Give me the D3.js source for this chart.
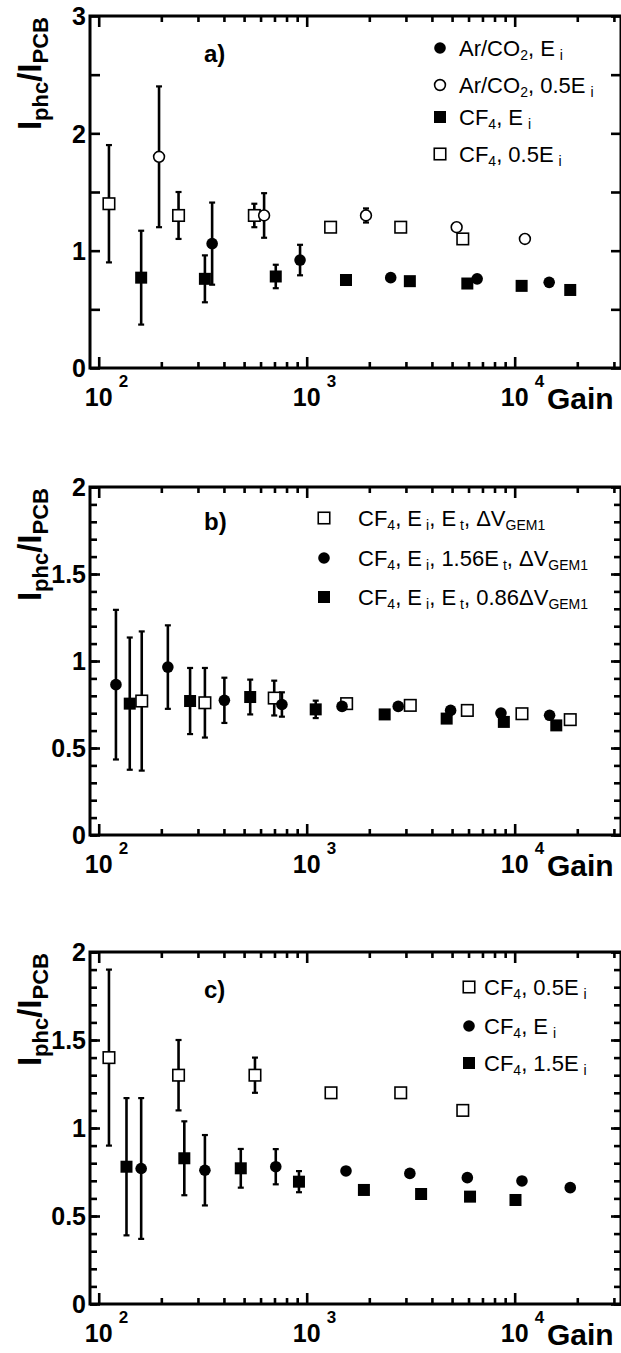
<!DOCTYPE html>
<html>
<head>
<meta charset="utf-8">
<script src="https://cdn.jsdelivr.net/npm/d3@7"></script>
<style>
body { margin: 0; background: #fff; }
svg { display: block; font-family: "Liberation Sans", Arial, sans-serif; }
</style>
</head>
<body>
<svg id="chart" width="621" height="1353"></svg>
<script>
// Three stacked panels of I_phc/I_PCB against Gain (log axis)
//	Every series is a list of [gain, ratio, error] -- error 0 means no bar

// ---- a) ----
var arCO2Ei     = [[351,1.06,0.35],[929,0.92,0.13],[2535,0.77,0],[6600,0.76,0],[14650,0.73,0]];
var arCO2HalfEi = [[195,1.80,0.60],[624,1.30,0.19],[1928,1.30,0.06],[5260,1.20,0],[11200,1.10,0]];
var cf4EiA      = [[160,0.77,0.40],[324,0.76,0.20],[710,0.78,0.10],[1545,0.75,0],[3133,0.74,0],[5920,0.72,0],[10800,0.70,0],[18500,0.665,0]];
var cf4HalfEiA  = [[112,1.40,0.50],[242,1.30,0.20],[560,1.30,0.10],[1303,1.20,0],[2832,1.20,0],[5630,1.10,0]];

// ---- b) ----
var cf4Nominal  = [[161,0.77,0.40],[324,0.76,0.20],[698,0.787,0.10],[1556,0.755,0],[3148,0.745,0],[5920,0.716,0],[10840,0.697,0],[18500,0.663,0]];
var cf4Et156    = [[121,0.864,0.43],[215,0.965,0.24],[402,0.774,0.13],[760,0.75,0.07],[1479,0.739,0],[2755,0.739,0],[4920,0.716,0],[8590,0.701,0],[14720,0.688,0]];
var cf4Gem086   = [[141,0.755,0.38],[275,0.77,0.19],[535,0.793,0.10],[1105,0.722,0.05],[2371,0.693,0],[4710,0.669,0],[8870,0.65,0],[15850,0.63,0]];

// ---- c) ----
var cf4HalfEiC  = [[112,1.40,0.50],[242,1.30,0.20],[564,1.30,0.10],[1309,1.20,0],[2832,1.20,0],[5630,1.10,0]];
var cf4EiC      = [[160,0.77,0.40],[324,0.76,0.20],[710,0.78,0.10],[1545,0.756,0],[3133,0.742,0],[5920,0.718,0],[10840,0.699,0],[18500,0.661,0]];
var cf4Ei15     = [[136,0.78,0.39],[258,0.828,0.21],[482,0.771,0.11],[918,0.695,0.06],[1884,0.648,0],[3549,0.625,0],[6100,0.61,0],[10090,0.591,0]];

	// Tick values
var xMajor = [100, 1000, 10000];
var xExpLabels = ["2", "3", "4"];
var yTicksA = [0, 0.5, 1, 1.5, 2, 2.5, 3];
var yLabelsA = [0, 1, 2, 3];
var yTicksBC = [0, 0.5, 1, 1.5, 2];
var yMinorBC = d3.range(0, 2.001, 0.1);

	// Legend texts: [text, 'sub'|null, dx]
var legendA = [
	[["Ar/CO"],["2","sub"],[", E"],["i","sub",5]],
	[["Ar/CO"],["2","sub"],[", 0.5E"],["i","sub",5]],
	[["CF"],["4","sub"],[", E"],["i","sub",5]],
	[["CF"],["4","sub"],[", 0.5E"],["i","sub",5]]
];
var legendB = [
	[["CF"],["4","sub"],[", E"],["i","sub",4],[", E"],["t","sub",4],[", \u0394V"],["GEM1","sub"]],
	[["CF"],["4","sub"],[", E"],["i","sub",4],[", 1.56E"],["t","sub",4],[", \u0394V"],["GEM1","sub"]],
	[["CF"],["4","sub"],[", E"],["i","sub",4],[", E"],["t","sub",4],[", 0.86\u0394V"],["GEM1","sub"]]
];
var legendC = [
	[["CF"],["4","sub"],[", 0.5E"],["i","sub",5]],
	[["CF"],["4","sub"],[", E"],["i","sub",5]],
	[["CF"],["4","sub"],[", 1.5E"],["i","sub",5]]
];

var svg = d3.select("#chart");
var L = 90, R = 621;
var x = d3.scaleLog().domain([90.8, 32450]).range([L, R]);

var xMinor = [];
[10, 100, 1000, 10000].forEach(function(dec) {
	for (var k=2; k<10; k++) {
		var v = k*dec;
		if (v > 90.8 && v < 32450) xMinor.push(v);
	}
});

var panels = [
	{ top: 16, bottom: 368, yMax: 3, ticks: yTicksA, minor: null, labels: yLabelsA, tag: "a)", tagY: 62,
	  leg: { mx: 440, tx: 459, rows: [48, 85, 117, 154] },
	  series: [
		{ data: cf4HalfEiA, shape: "os", text: legendA[3], row: 3 },
		{ data: arCO2HalfEi, shape: "oc", text: legendA[1], row: 1 },
		{ data: cf4EiA, shape: "fs", text: legendA[2], row: 2 },
		{ data: arCO2Ei, shape: "fc", text: legendA[0], row: 0 }
	  ] },
	{ top: 487, bottom: 835, yMax: 2, ticks: yTicksBC, minor: yMinorBC, labels: yTicksBC, tag: "b)", tagY: 530,
	  leg: { mx: 324, tx: 358, rows: [518, 558, 597] },
	  series: [
		{ data: cf4Nominal, shape: "os", text: legendB[0], row: 0 },
		{ data: cf4Et156, shape: "fc", text: legendB[1], row: 1 },
		{ data: cf4Gem086, shape: "fs", text: legendB[2], row: 2 }
	  ] },
	{ top: 952, bottom: 1304, yMax: 2, ticks: yTicksBC, minor: yMinorBC, labels: yTicksBC, tag: "c)", tagY: 998,
	  leg: { mx: 469, tx: 484, rows: [987, 1026, 1063] },
	  series: [
		{ data: cf4HalfEiC, shape: "os", text: legendC[0], row: 0 },
		{ data: cf4EiC, shape: "fc", text: legendC[1], row: 1 },
		{ data: cf4Ei15, shape: "fs", text: legendC[2], row: 2 }
	  ] }
];

	// PURPOSE: Write a text built from segments with sub-scripts
function richText(sel, parts, size, subSize, drop, weight)
{
	var t = sel.append("text").attr("font-size", size).attr("font-weight", weight || "normal");
	var cur = 0;
	parts.forEach(function(p) {
		var want = p[1] === "sub" ? drop : 0;
		var span = t.append("tspan").text(p[0]).attr("dy", want - cur);
		if (p[2]) span.attr("dx", p[2]);
		if (p[1] === "sub") span.attr("font-size", subSize);
		cur = want;
	});
	return t;
} // richText()

	// PURPOSE: Draw one marker of given shape at cx, cy
function marker(sel, shape, cx, cy)
{
	var open = shape.charAt(0) === "o";
	var m;
	if (shape.charAt(1) === "c") {
		m = sel.append("circle").attr("cx", cx).attr("cy", cy).attr("r", open ? 5.4 : 5.8);
	} else {
		var s = open ? 11.5 : 12;
		m = sel.append("rect").attr("x", cx - s/2).attr("y", cy - s/2).attr("width", s).attr("height", s);
	}
	m.attr("fill", open ? "#fff" : "#000").attr("stroke", "#000").attr("stroke-width", open ? 1.6 : 0);
} // marker()

function styleAxis(g)
{
	g.select(".domain").remove();
	g.selectAll(".tick line").attr("stroke", "#000").attr("stroke-width", 2.6);
} // styleAxis()

function drawPanel(p)
{
	var y = d3.scaleLinear().domain([0, p.yMax]).range([p.bottom, p.top]);
	var g = svg.append("g");

		// Ticks, all pointing inward
	g.append("g").attr("transform", "translate(0," + p.bottom + ")")
		.call(d3.axisBottom(x).tickValues(xMajor).tickSize(-11).tickFormat("")).call(styleAxis);
	g.append("g").attr("transform", "translate(0," + p.bottom + ")")
		.call(d3.axisBottom(x).tickValues(xMinor).tickSize(-6).tickFormat("")).call(styleAxis);
	g.append("g").attr("transform", "translate(0," + p.top + ")")
		.call(d3.axisTop(x).tickValues(xMajor).tickSize(-11).tickFormat("")).call(styleAxis);
	g.append("g").attr("transform", "translate(0," + p.top + ")")
		.call(d3.axisTop(x).tickValues(xMinor).tickSize(-6).tickFormat("")).call(styleAxis);

	if (p.minor) {
		g.append("g").attr("transform", "translate(" + L + ",0)")
			.call(d3.axisLeft(y).tickValues(p.minor).tickSize(-7).tickFormat("")).call(styleAxis);
		g.append("g").attr("transform", "translate(" + R + ",0)")
			.call(d3.axisRight(y).tickValues(p.minor).tickSize(-7).tickFormat("")).call(styleAxis);
	}
	g.append("g").attr("transform", "translate(" + L + ",0)")
		.call(d3.axisLeft(y).tickValues(p.ticks).tickSize(-10).tickPadding(4)
			.tickFormat(function(d) { return p.labels.indexOf(d) >= 0 ? d : ""; }))
		.call(styleAxis)
		.call(function(a) {
			a.selectAll("text").attr("font-size", 25).attr("font-weight", "bold")
				.attr("font-family", "Liberation Sans, Arial, sans-serif").attr("fill", "#000").attr("dy", "0.35em");
		});
	g.append("g").attr("transform", "translate(" + R + ",0)")
		.call(d3.axisRight(y).tickValues(p.ticks).tickSize(-10).tickFormat("")).call(styleAxis);

		// Frame
	g.append("rect").attr("x", L).attr("y", p.top).attr("width", R - L).attr("height", p.bottom - p.top)
		.attr("fill", "none").attr("stroke", "#000").attr("stroke-width", 3);

		// x labels 10^n and Gain
	xMajor.forEach(function(v, i) {
		g.append("text").attr("x", x(v)).attr("y", p.bottom + 38).attr("text-anchor", "middle")
			.attr("font-size", 25).attr("font-weight", "bold").text("10");
		g.append("text").attr("x", x(v) + 20).attr("y", p.bottom + 19)
			.attr("font-size", 17).attr("font-weight", "bold").text(xExpLabels[i]);
	});
	g.append("text").attr("x", 547).attr("y", p.bottom + 41)
		.attr("font-size", 30).attr("font-weight", "bold").text("Gain");

		// y title
	richText(g.append("g").attr("transform", "translate(41," + (p.top + 1) + ") rotate(-90)"),
		[["I"],["phc","sub"],["/"],["I"],["PCB","sub"]], 33, 22, 7, "bold")
		.attr("text-anchor", "end");

		// Panel tag
	g.append("text").attr("x", 204).attr("y", p.tagY).attr("font-size", 24).attr("font-weight", "bold").text(p.tag);

		// Error bars first, markers on top
	var bars = g.append("g").attr("stroke", "#000");
	p.series.forEach(function(s) {
		var withErr = s.data.filter(function(d) { return d[2] > 0; });
		bars.selectAll(null).data(withErr).enter().append("line")
			.attr("x1", function(d) { return x(d[0]); }).attr("x2", function(d) { return x(d[0]); })
			.attr("y1", function(d) { return y(d[1] - d[2]); }).attr("y2", function(d) { return y(d[1] + d[2]); })
			.attr("stroke-width", 2.6);
		[-1, 1].forEach(function(sgn) {
			bars.selectAll(null).data(withErr).enter().append("line")
				.attr("x1", function(d) { return x(d[0]) - 3; }).attr("x2", function(d) { return x(d[0]) + 3; })
				.attr("y1", function(d) { return y(d[1] + sgn*d[2]); }).attr("y2", function(d) { return y(d[1] + sgn*d[2]); })
				.attr("stroke-width", 2.2);
		});
	});
	p.series.forEach(function(s) {
		var mg = g.append("g");
		s.data.forEach(function(d) { marker(mg, s.shape, x(d[0]), y(d[1])); });

			// Legend row
		var ry = p.leg.rows[s.row];
		marker(g, s.shape, p.leg.mx, ry);
		richText(g.append("g").attr("transform", "translate(" + p.leg.tx + "," + (ry + 8) + ")"),
			s.text, 22, 14, 4);
	});
} // drawPanel()

panels.forEach(drawPanel);
</script>
</body>
</html>
